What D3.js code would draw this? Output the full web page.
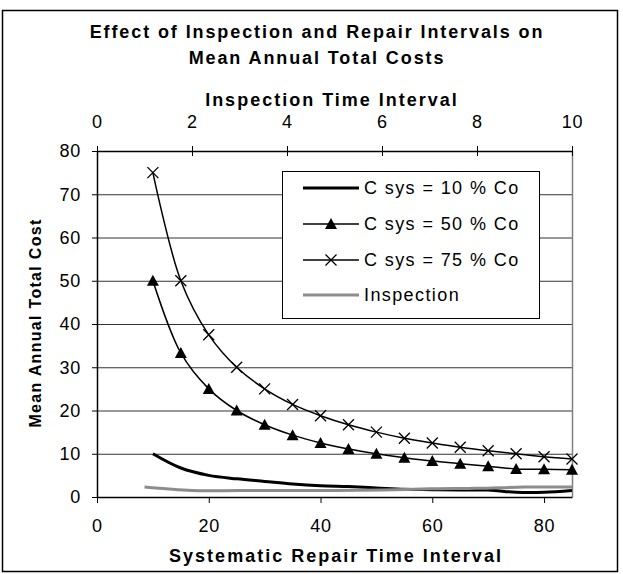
<!DOCTYPE html>
<html>
<head>
<meta charset="utf-8">
<script src="https://cdn.jsdelivr.net/npm/d3@7"></script>
<style>
body { margin: 0; background: #fff; }
text { font-family: "Liberation Sans", Arial, sans-serif; fill: #000; }
</style>
</head>
<body>
<div id="chart"></div>
<script>
// repair interval (bottom axis) and the three cost series
var repairX = [10, 15, 20, 25, 30, 35, 40, 45, 50, 55, 60, 65, 70, 75, 80, 85];
var csys10 = [10, 6.7, 5, 4.2, 3.6, 3, 2.6, 2.4, 2.1, 1.8, 1.7, 1.6, 1.6, 1.1, 1.1, 1.5];
var csys50 = [50, 33.3, 25, 20, 16.7, 14.3, 12.5, 11.1, 10, 9.1, 8.3, 7.7, 7.1, 6.5, 6.4, 6.3];
var csys75 = [75, 50, 37.5, 30, 25, 21.4, 18.8, 16.7, 15, 13.6, 12.5, 11.5, 10.7, 10, 9.3, 8.8];

// inspection interval (top axis)
var inspX = [1, 2, 3, 4, 5, 6, 7, 8, 9, 10];
var inspCost = [2.3, 1.5, 1.5, 1.5, 1.5, 1.6, 1.9, 2.0, 2.3, 2.3];

var yTicks = [0, 10, 20, 30, 40, 50, 60, 70, 80];
var bottomTicks = [0, 20, 40, 60, 80];
var topTicks = [0, 2, 4, 6, 8, 10];
var legendLabels = ["C sys = 10 % Co", "C sys = 50 % Co", "C sys = 75 % Co", "Inspection"];

var width = 623, height = 574;
var plotLeft = 97, plotRight = 572, plotTop = 151, plotBottom = 497;

var svg = d3.select("#chart").append("svg")
	.attr("width", width)
	.attr("height", height);

// outer frame
svg.append("rect")
	.attr("x", 2.5).attr("y", 10.5)
	.attr("width", 615).attr("height", 561)
	.attr("fill", "none")
	.attr("stroke", "#000")
	.attr("stroke-width", 1.5);

var xScale = d3.scaleLinear().domain([0, 85]).range([plotLeft, plotRight]);
var xTop = d3.scaleLinear().domain([0, 10]).range([plotLeft, plotRight]);
var yScale = d3.scaleLinear().domain([0, 80]).range([plotBottom, plotTop]);

// gridlines
svg.append("g")
	.selectAll("line")
	.data(yTicks.filter(function(d) { return d > 0 && d < 80; }))
	.enter()
	.append("line")
	.attr("x1", plotLeft).attr("x2", plotRight)
	.attr("y1", function(d) { return yScale(d) + 0.5; })
	.attr("y2", function(d) { return yScale(d) + 0.5; })
	.attr("stroke", "#333")
	.attr("stroke-width", 1);

// right border of plot area
svg.append("line")
	.attr("x1", plotRight + 0.5).attr("x2", plotRight + 0.5)
	.attr("y1", plotTop).attr("y2", plotBottom)
	.attr("stroke", "#808080")
	.attr("stroke-width", 1.5);

// axes
var yAxis = svg.append("g")
	.attr("transform", "translate(" + plotLeft + ",0)")
	.call(d3.axisLeft(yScale).tickValues(yTicks).tickSize(5).tickSizeOuter(0).tickPadding(11));

var xAxis = svg.append("g")
	.attr("transform", "translate(0," + plotBottom + ")")
	.call(d3.axisBottom(xScale).tickValues(bottomTicks).tickSize(6).tickSizeOuter(0).tickPadding(16));

var topAxis = svg.append("g")
	.attr("transform", "translate(0," + plotTop + ")")
	.call(d3.axisTop(xTop).tickValues(topTicks).tickSize(5).tickSizeOuter(0).tickPadding(18));

topAxis.selectAll(".tick line").attr("y1", 5).attr("y2", -5);

[yAxis, xAxis, topAxis].forEach(function(ax) {
	ax.select(".domain").attr("stroke", "#000").attr("stroke-width", 1.5);
	ax.selectAll(".tick line").attr("stroke", "#000");
	ax.selectAll(".tick text")
		.attr("font-family", "Liberation Sans, Arial, sans-serif")
		.attr("font-size", 18)
		.attr("letter-spacing", 0.8);
});

// series lines
var line = d3.line()
	.x(function(d) { return xScale(d[0]); })
	.y(function(d) { return yScale(d[1]); })
	.curve(d3.curveCatmullRom.alpha(0.5));

var lineTop = d3.line()
	.x(function(d) { return xTop(d[0]); })
	.y(function(d) { return yScale(d[1]); })
	.curve(d3.curveCatmullRom.alpha(0.5));

var s10 = d3.zip(repairX, csys10);
var s50 = d3.zip(repairX, csys50);
var s75 = d3.zip(repairX, csys75);
var sInsp = d3.zip(inspX, inspCost);

svg.append("path").attr("d", line(s10))
	.attr("fill", "none").attr("stroke", "#000").attr("stroke-width", 3);

svg.append("path").attr("d", line(s50))
	.attr("fill", "none").attr("stroke", "#000").attr("stroke-width", 1.5);

svg.append("path").attr("d", line(s75))
	.attr("fill", "none").attr("stroke", "#000").attr("stroke-width", 1.5);

svg.append("path").attr("d", lineTop(sInsp))
	.attr("fill", "none").attr("stroke", "#8c8c8c").attr("stroke-width", 3);

// markers
var triPath = "M0,-6L6,5L-6,5Z";
var crossPath = "M-5.5,-5.5L5.5,5.5M-5.5,5.5L5.5,-5.5";

svg.append("g").selectAll("path")
	.data(s50)
	.enter()
	.append("path")
	.attr("transform", function(d) { return "translate(" + xScale(d[0]) + "," + yScale(d[1]) + ")"; })
	.attr("d", triPath)
	.attr("fill", "#000");

svg.append("g").selectAll("path")
	.data(s75)
	.enter()
	.append("path")
	.attr("transform", function(d) { return "translate(" + xScale(d[0]) + "," + yScale(d[1]) + ")"; })
	.attr("d", crossPath)
	.attr("fill", "none")
	.attr("stroke", "#000")
	.attr("stroke-width", 1.3);

// legend
var legend = svg.append("g").attr("transform", "translate(282,171)");
legend.append("rect")
	.attr("x", 0.5).attr("y", 0.5)
	.attr("width", 257).attr("height", 147)
	.attr("fill", "#fff")
	.attr("stroke", "#000")
	.attr("stroke-width", 1);

var rowY = [17, 53, 89, 124];
var rowStroke = ["#000", "#000", "#000", "#8c8c8c"];
var rowWidth = [3, 1.5, 1.5, 3];

legendLabels.forEach(function(lab, i) {
	var row = legend.append("g").attr("transform", "translate(0," + rowY[i] + ")");
	row.append("line")
		.attr("x1", 21).attr("x2", 77)
		.attr("stroke", rowStroke[i])
		.attr("stroke-width", rowWidth[i]);
	if (i == 1) {
		row.append("path").attr("transform", "translate(49,0)").attr("d", triPath).attr("fill", "#000");
	}
	if (i == 2) {
		row.append("path").attr("transform", "translate(49,0)").attr("d", crossPath)
			.attr("stroke", "#000").attr("stroke-width", 1.3).attr("fill", "none");
	}
	row.append("text")
		.attr("x", 82)
		.attr("dy", "0.36em")
		.attr("font-size", 18)
		.attr("letter-spacing", 1.4)
		.text(lab);
});

// titles
svg.append("text")
	.attr("x", 317).attr("y", 38)
	.attr("text-anchor", "middle")
	.attr("font-size", 18).attr("font-weight", "bold")
	.attr("letter-spacing", 1.9)
	.text("Effect of Inspection and Repair Intervals on");

svg.append("text")
	.attr("x", 317).attr("y", 64)
	.attr("text-anchor", "middle")
	.attr("font-size", 18).attr("font-weight", "bold")
	.attr("letter-spacing", 1.9)
	.text("Mean Annual Total Costs");

svg.append("text")
	.attr("x", 332).attr("y", 106)
	.attr("text-anchor", "middle")
	.attr("font-size", 18).attr("font-weight", "bold")
	.attr("letter-spacing", 2)
	.text("Inspection Time Interval");

svg.append("text")
	.attr("x", 336).attr("y", 562)
	.attr("text-anchor", "middle")
	.attr("font-size", 18).attr("font-weight", "bold")
	.attr("letter-spacing", 2)
	.text("Systematic Repair Time Interval");

svg.append("text")
	.attr("transform", "translate(41,323) rotate(-90)")
	.attr("text-anchor", "middle")
	.attr("font-size", 16).attr("font-weight", "bold")
	.attr("letter-spacing", 1.3)
	.text("Mean Annual Total Cost");
</script>
</body>
</html>
